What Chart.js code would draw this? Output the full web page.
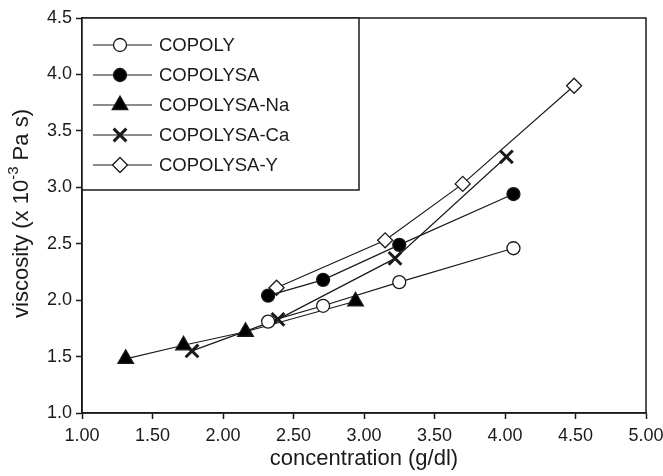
<!DOCTYPE html>
<html>
<head>
<meta charset="utf-8">
<script src="https://cdn.jsdelivr.net/npm/chart.js@4.4.1/dist/chart.umd.min.js"></script>
<style>
  html, body { margin: 0; padding: 0; background: #fff; }
  #wrap { width: 663px; height: 476px; }
</style>
</head>
<body>
<div id="wrap"><canvas id="viscChart" width="663" height="476"></canvas></div>
<script>
/* ---- data ---- */
const seriesNames = ['COPOLY', 'COPOLYSA', 'COPOLYSA-Na', 'COPOLYSA-Ca', 'COPOLYSA-Y'];

const copolyConc = [2.32, 2.71, 3.25, 4.06];
const copolyVisc = [1.81, 1.95, 2.16, 2.46];

const copolysaConc = [2.32, 2.71, 3.25, 4.06];
const copolysaVisc = [2.04, 2.18, 2.49, 2.94];

const naConc = [1.31, 1.72, 2.16, 2.94];
const naVisc = [1.48, 1.60, 1.72, 1.99];

const caConc = [1.78, 2.39, 3.22, 4.01];
const caVisc = [1.55, 1.83, 2.37, 3.27];

const yConc = [2.38, 3.15, 3.70, 4.49];
const yVisc = [2.11, 2.53, 3.03, 3.90];

const xTicks = [1.00, 1.50, 2.00, 2.50, 3.00, 3.50, 4.00, 4.50, 5.00];
const yTicks = [1.0, 1.5, 2.0, 2.5, 3.0, 3.5, 4.0, 4.5];

const FONT = '"Liberation Sans", Arial, Helvetica, sans-serif';
const INK = '#1a1a1a';

function pairs(xs, ys) {
    return xs.map((x, i) => ({ x: x, y: ys[i] }));
}

// marker style per series
const markerStyles = [
    { pointStyle: 'circle',   radius: 6.5, fill: '#ffffff', borderWidth: 1.3 },
    { pointStyle: 'circle',   radius: 6.5, fill: '#000000', borderWidth: 1.3 },
    { pointStyle: 'triangle', radius: 9,   fill: '#000000', borderWidth: 1.3 },
    { pointStyle: 'crossRot', radius: 9,   fill: '#000000', borderWidth: 3 },
    { pointStyle: 'rectRot',  radius: 7.5, fill: '#ffffff', borderWidth: 1.3 }
];

const seriesData = [
    pairs(copolyConc, copolyVisc),
    pairs(copolysaConc, copolysaVisc),
    pairs(naConc, naVisc),
    pairs(caConc, caVisc),
    pairs(yConc, yVisc)
];

const datasets = seriesNames.map((name, i) => ({
    label: name,
    data: seriesData[i],
    showLine: true,
    borderColor: INK,
    borderWidth: 1.2,
    pointStyle: markerStyles[i].pointStyle,
    pointRadius: markerStyles[i].radius,
    pointBackgroundColor: markerStyles[i].fill,
    pointBorderColor: INK,
    pointBorderWidth: markerStyles[i].borderWidth
}));

/* frame, legend box and y title drawn on top */
const decorPlugin = {
    id: 'decor',
    afterDraw(chart) {
        const { ctx, chartArea: a } = chart;
        ctx.save();

        // plot frame
        ctx.strokeStyle = INK;
        ctx.lineWidth = 1.5;
        ctx.strokeRect(a.left, a.top, a.right - a.left, a.bottom - a.top);

        // legend box in upper left corner
        const boxW = 277, boxH = 172;
        ctx.fillStyle = '#fff';
        ctx.fillRect(a.left, a.top, boxW, boxH);
        ctx.strokeRect(a.left, a.top, boxW, boxH);

        ctx.font = '18.5px ' + FONT;
        ctx.textBaseline = 'middle';
        ctx.textAlign = 'left';
        seriesNames.forEach((name, i) => {
            const yy = a.top + 27 + i * 30;
            ctx.strokeStyle = INK;
            ctx.lineWidth = 1.2;
            ctx.beginPath();
            ctx.moveTo(a.left + 11, yy);
            ctx.lineTo(a.left + 70, yy);
            ctx.stroke();

            const m = markerStyles[i];
            ctx.fillStyle = m.fill;
            ctx.strokeStyle = INK;
            ctx.lineWidth = m.borderWidth;
            Chart.helpers.drawPoint(ctx, {
                pointStyle: m.pointStyle,
                radius: m.radius,
                borderWidth: m.borderWidth,
                rotation: 0
            }, a.left + 38, yy);

            ctx.fillStyle = INK;
            ctx.fillText(name, a.left + 77, yy + 1);
        });

        // y axis title with superscript
        const main1 = 'viscosity (x 10';
        const sup = '-3';
        const main2 = ' Pa s)';
        ctx.font = '22px ' + FONT;
        const w1 = ctx.measureText(main1).width;
        const w3 = ctx.measureText(main2).width;
        ctx.font = '15px ' + FONT;
        const w2 = ctx.measureText(sup).width;
        const total = w1 + w2 + w3;
        ctx.translate(28, (a.top + a.bottom) / 2 - 2);
        ctx.rotate(-Math.PI / 2);
        ctx.textBaseline = 'alphabetic';
        ctx.fillStyle = INK;
        let x0 = -total / 2;
        ctx.font = '22px ' + FONT;
        ctx.fillText(main1, x0, 0);
        ctx.font = '15px ' + FONT;
        ctx.fillText(sup, x0 + w1, -10);
        ctx.font = '22px ' + FONT;
        ctx.fillText(main2, x0 + w1 + w2, 0);

        ctx.restore();
    }
};

new Chart(document.getElementById('viscChart'), {
    type: 'scatter',
    data: { datasets: datasets },
    plugins: [decorPlugin],
    options: {
        responsive: false,
        devicePixelRatio: 1,
        animation: false,
        layout: { padding: { top: 18, right: 17, left: 0, bottom: 0 } },
        plugins: {
            legend: { display: false },
            tooltip: { enabled: false }
        },
        scales: {
            x: {
                type: 'linear',
                min: 1,
                max: 5,
                afterBuildTicks: (scale) => { scale.ticks = xTicks.map(v => ({ value: v })); },
                afterFit: (scale) => {
                    scale.height = 63;
                    scale.paddingLeft = 0;
                    scale.paddingRight = 0;
                },
                ticks: {
                    font: { family: FONT, size: 18 },
                    color: INK,
                    padding: 6,
                    maxRotation: 0,
                    callback: (v) => v.toFixed(2)
                },
                grid: { drawOnChartArea: false, drawTicks: true, tickLength: 6, tickColor: INK, tickWidth: 1.5 },
                border: { display: true, color: INK, width: 1.5 },
                title: {
                    display: true,
                    text: 'concentration (g/dl)',
                    font: { family: FONT, size: 22 },
                    color: INK,
                    padding: { top: 0, bottom: 4 }
                }
            },
            y: {
                type: 'linear',
                min: 1,
                max: 4.5,
                afterBuildTicks: (scale) => { scale.ticks = yTicks.map(v => ({ value: v })); },
                afterFit: (scale) => {
                    scale.width = 82;
                    scale.paddingTop = 0;
                    scale.paddingBottom = 0;
                },
                ticks: {
                    font: { family: FONT, size: 18 },
                    color: INK,
                    padding: 4,
                    callback: (v) => v.toFixed(1)
                },
                grid: { drawOnChartArea: false, drawTicks: true, tickLength: 6, tickColor: INK, tickWidth: 1.5 },
                border: { display: true, color: INK, width: 1.5 },
                title: { display: false }
            }
        }
    }
});
</script>
</body>
</html>
